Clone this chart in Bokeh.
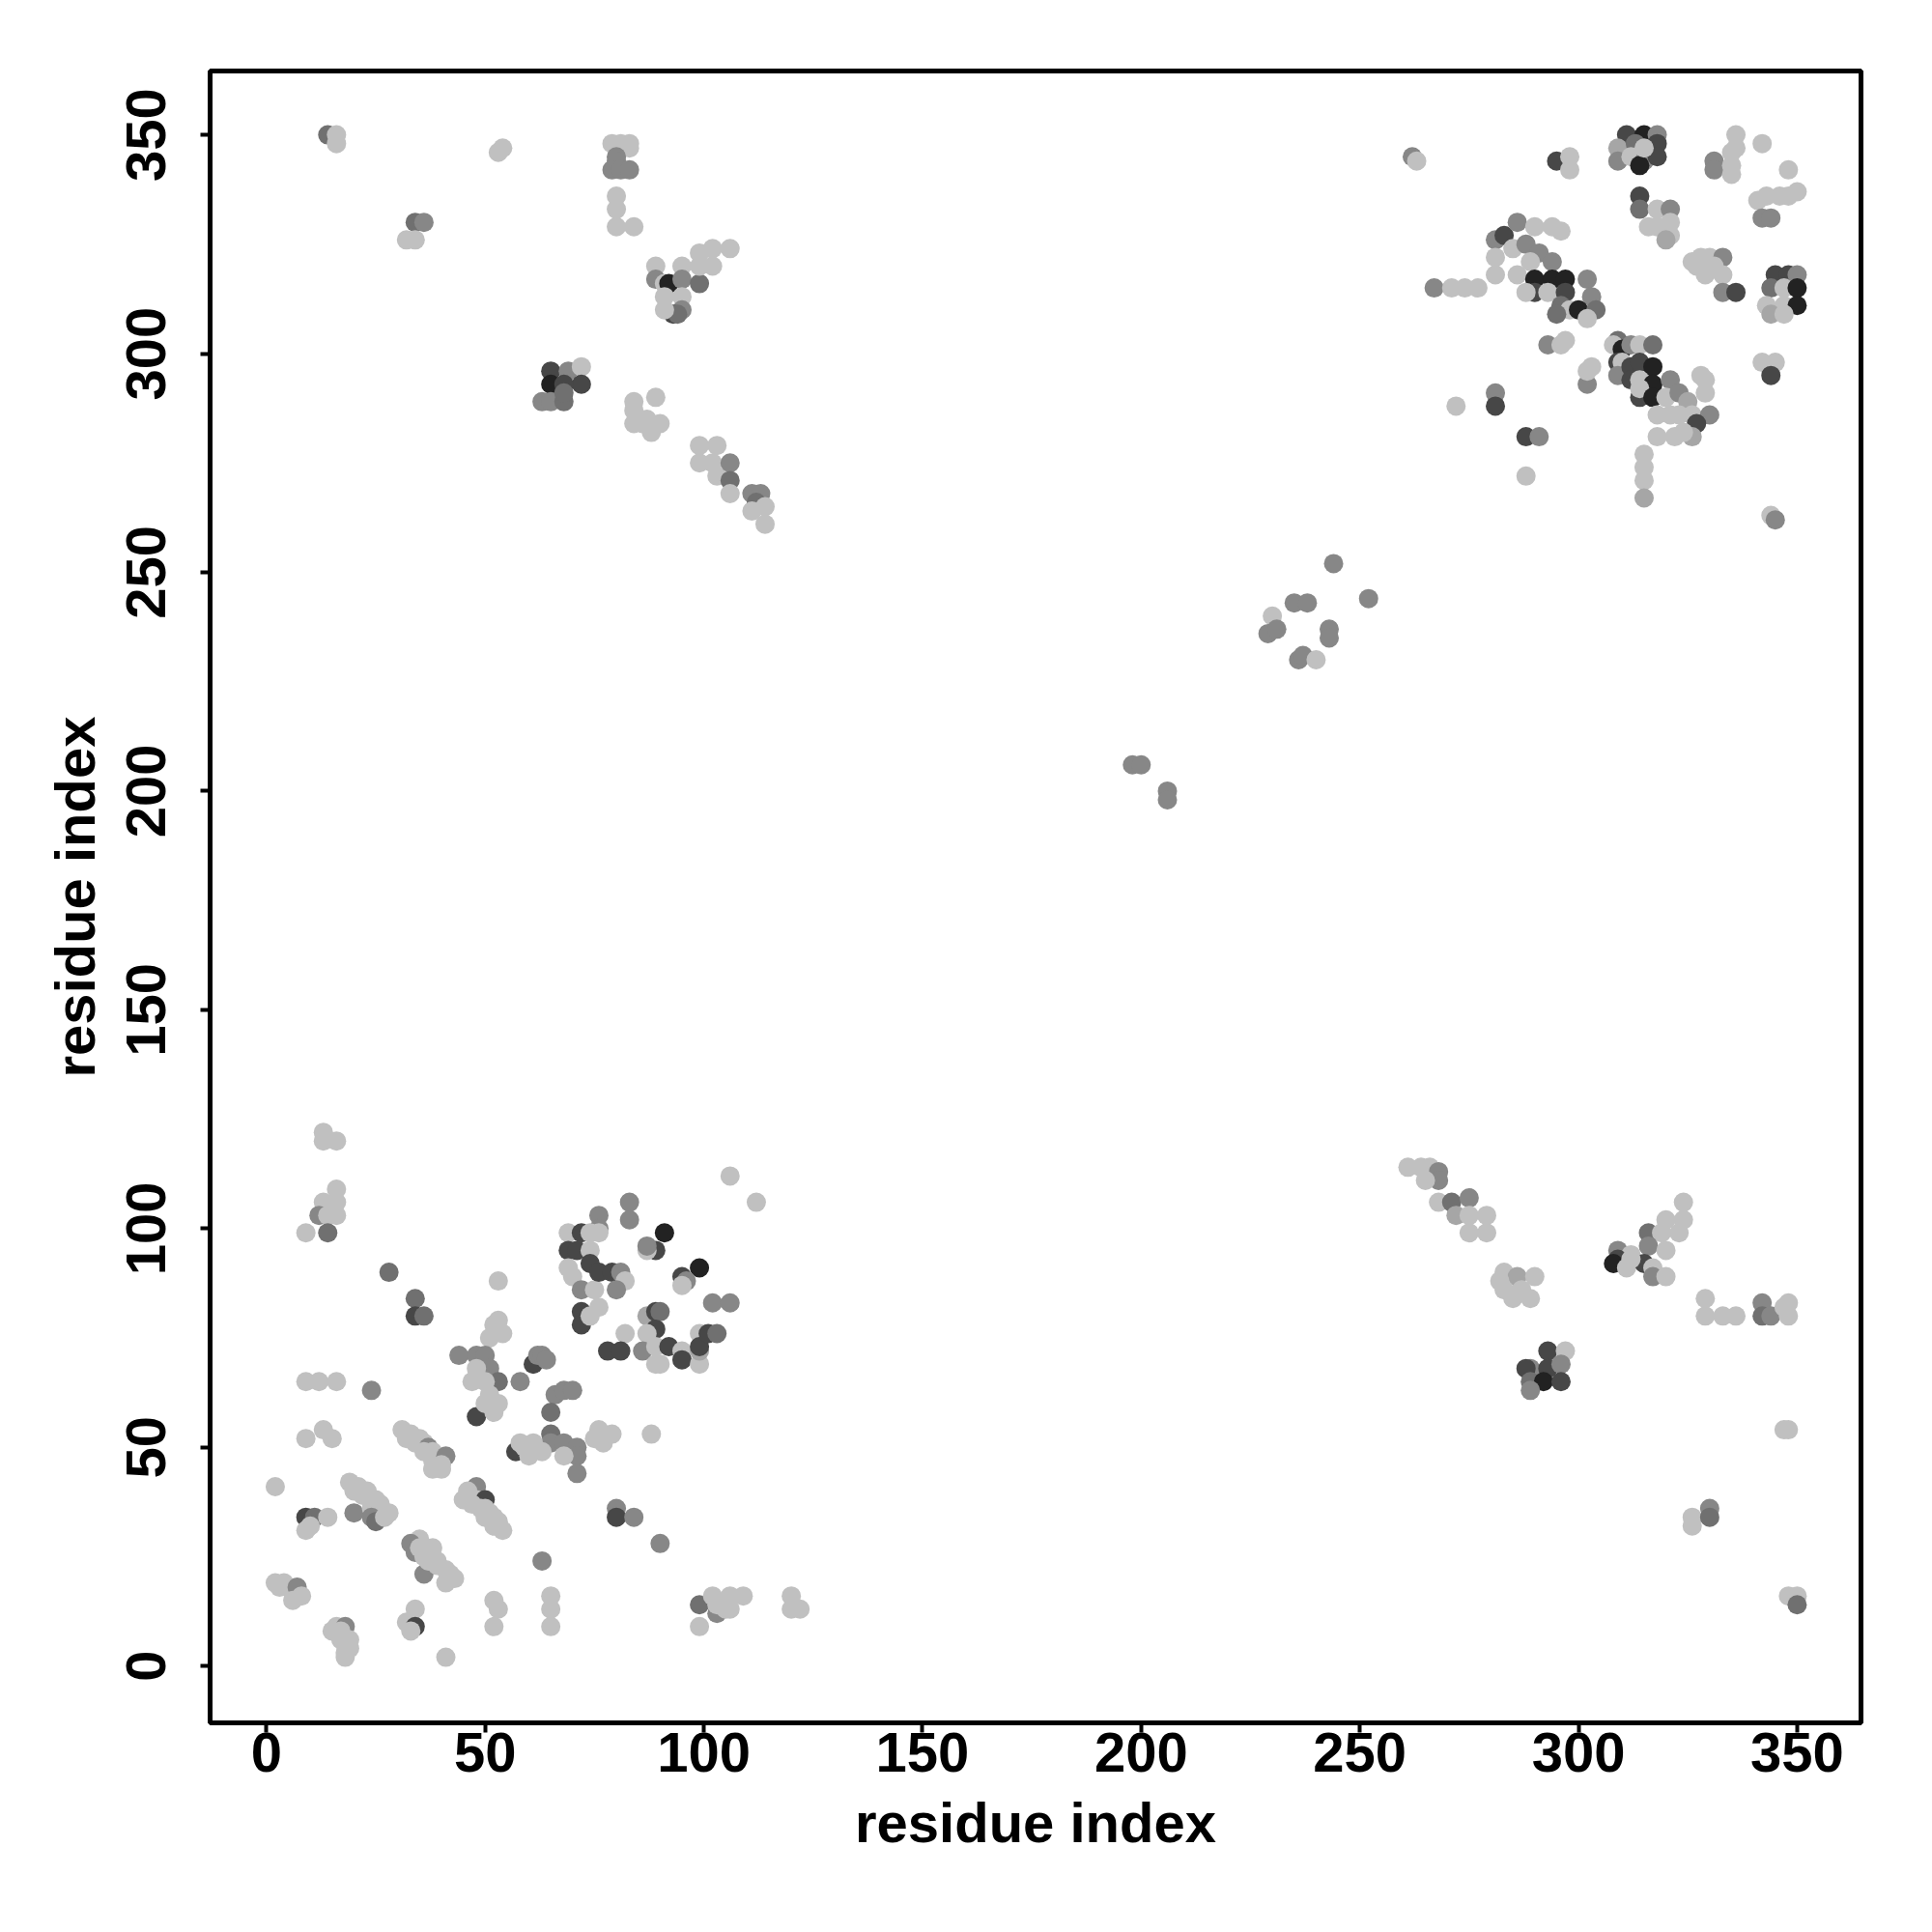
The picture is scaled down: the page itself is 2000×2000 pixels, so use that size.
from bokeh.plotting import figure
from bokeh.models import Range1d, ColumnDataSource, FixedTicker
from bokeh.embed import file_html
from bokeh.resources import INLINE

tick_values = [0, 50, 100, 150, 200, 250, 300, 350]
axis_title = "residue index"

# shade code -> grey level
shade_colors = {1: "#c0c0c0", 2: "#a6a6a6", 3: "#878787", 4: "#707070", 5: "#474747", 6: "#222222"}

# (residue i, residue j, shade code)
top_left = [
    (14, 350, 4), (16, 350, 1), (16, 348, 1), (53, 346, 1), (54, 347, 1),
    (34, 330, 4), (36, 330, 3), (32, 326, 1), (34, 326, 1),
    (79, 348, 1), (81, 348, 1), (83, 348, 1), (83, 347, 1), (80, 345, 3), (80, 344, 3),
    (79, 342, 3), (81, 342, 3), (83, 342, 3), (80, 336, 1), (80, 333, 1), (80, 329, 1), (84, 329, 1),
    (89, 320, 1), (89, 317, 3), (91, 316, 1), (92, 316, 6), (95, 320, 1), (95, 317, 3), (99, 316, 4),
    (99, 323, 1), (102, 324, 1), (102, 320, 1), (106, 324, 1), (99, 320, 1), (91, 313, 1), (95, 313, 1),
    (95, 310, 3), (93, 309, 5), (94, 309, 4), (91, 310, 1),
    (65, 296, 5), (65, 293, 6), (69, 296, 3), (72, 297, 1), (72, 293, 5), (68, 293, 5),
    (63, 289, 3), (65, 289, 3), (68, 289, 4), (68, 291, 4),
    (84, 289, 1), (89, 290, 1), (84, 287, 1), (84, 284, 1), (88, 282, 1), (90, 284, 1), (87, 285, 1), (86, 284, 1),
    (99, 279, 1), (103, 279, 1), (99, 275, 1), (102, 275, 1), (103, 272, 1), (106, 275, 3), (106, 271, 4),
    (106, 268, 1), (111, 268, 3), (113, 268, 3), (112, 266, 4), (111, 264, 1), (114, 265, 1), (114, 261, 1),
]

top_right = [
    (262, 345, 3), (263, 344, 1), (295, 344, 5), (298, 345, 1), (298, 342, 1),
    (311, 350, 5), (315, 350, 6), (318, 350, 3), (309, 347, 2), (313, 348, 4), (318, 348, 5), (309, 344, 3),
    (312, 345, 1), (315, 344, 3), (318, 345, 5), (314, 343, 6), (315, 347, 1),
    (331, 344, 3), (331, 342, 3), (335, 346, 1), (336, 350, 1), (336, 347, 1), (335, 343, 1), (335, 341, 1),
    (342, 348, 1), (348, 342, 1),
    (341, 335, 1), (343, 336, 1), (346, 336, 1), (348, 336, 1), (350, 337, 1), (342, 331, 3), (344, 331, 3),
    (314, 336, 5), (314, 333, 4), (318, 333, 1), (321, 333, 3), (318, 329, 1), (321, 330, 1), (321, 327, 1),
    (320, 326, 2), (316, 329, 1),
    (326, 321, 1), (328, 322, 1), (330, 322, 1), (333, 322, 3), (329, 318, 1), (333, 318, 1), (333, 314, 3),
    (336, 314, 5), (327, 320, 1), (331, 320, 1),
    (345, 318, 5), (348, 318, 5), (350, 318, 3), (344, 315, 4), (347, 315, 1), (350, 315, 6), (343, 311, 1),
    (347, 311, 1), (350, 311, 6), (344, 309, 2), (347, 309, 1),
    (267, 315, 3), (271, 315, 1), (274, 315, 1), (277, 315, 1),
    (281, 326, 3), (283, 327, 5), (286, 330, 3), (290, 329, 1), (294, 329, 1), (296, 328, 1), (281, 322, 1),
    (281, 318, 1), (286, 318, 1), (285, 324, 1), (288, 325, 3), (291, 323, 3), (289, 321, 1), (294, 321, 3),
    (290, 317, 6), (294, 317, 6), (297, 317, 6), (302, 317, 3), (290, 314, 5), (293, 314, 1), (297, 314, 5),
    (303, 313, 3), (296, 311, 4), (298, 310, 1), (295, 309, 4), (300, 310, 6), (304, 310, 4), (302, 308, 1),
    (288, 314, 1),
    (293, 302, 3), (296, 302, 1), (297, 303, 1), (302, 293, 3), (302, 296, 1), (303, 297, 1),
    (309, 303, 4), (308, 302, 1), (310, 301, 6), (312, 302, 3), (314, 302, 1), (317, 302, 4), (309, 298, 5),
    (310, 298, 1), (309, 295, 3), (312, 297, 5), (314, 298, 5), (317, 297, 6), (312, 294, 5), (314, 294, 1),
    (317, 293, 6), (314, 290, 5), (314, 292, 1), (317, 290, 6), (321, 294, 3), (320, 290, 1), (323, 291, 3),
    (325, 289, 2), (328, 295, 1), (329, 294, 1), (329, 291, 1),
    (318, 286, 1), (321, 286, 1), (323, 286, 1), (326, 286, 1), (330, 286, 3), (327, 284, 5), (318, 281, 1),
    (322, 281, 1), (326, 281, 2), (324, 282, 1),
    (315, 277, 1), (315, 274, 1), (315, 271, 1), (315, 267, 2),
    (342, 298, 1), (345, 298, 1), (344, 295, 5), (344, 263, 1), (345, 262, 3),
    (272, 288, 1), (281, 291, 3), (281, 288, 5), (288, 281, 5), (291, 281, 3), (288, 272, 1),
]

middle = [
    (244, 252, 3), (252, 244, 3), (235, 243, 3), (238, 243, 3), (230, 240, 1), (229, 236, 3), (231, 237, 3),
    (243, 237, 3), (243, 235, 3), (236, 230, 3), (237, 231, 3), (240, 230, 1),
    (198, 206, 3), (200, 206, 3), (206, 200, 3), (206, 198, 3),
]

bottom_right = [
    (261, 114, 1), (264, 114, 1), (266, 114, 1), (268, 113, 3), (268, 111, 3), (265, 111, 1), (268, 106, 1),
    (271, 106, 4), (275, 107, 3), (272, 103, 2), (275, 103, 1), (279, 103, 1), (275, 99, 1), (279, 99, 1),
    (283, 90, 1), (286, 89, 2), (290, 89, 1), (282, 88, 1), (283, 86, 1), (285, 84, 1), (289, 84, 1), (287, 86, 1),
    (324, 106, 1), (320, 102, 1), (324, 102, 1), (316, 99, 4), (319, 99, 1), (323, 99, 1), (316, 96, 3),
    (320, 95, 1), (309, 95, 3), (312, 94, 1), (309, 93, 5), (308, 92, 6), (311, 91, 1), (315, 92, 5),
    (317, 91, 1), (317, 89, 3), (320, 89, 1), (312, 93, 1),
    (329, 84, 1), (329, 80, 1), (333, 80, 1), (336, 80, 1), (342, 83, 3), (342, 80, 4), (344, 80, 3),
    (348, 83, 1), (348, 80, 1), (347, 82, 1),
    (293, 72, 5), (297, 72, 1), (289, 68, 3), (288, 68, 5), (293, 68, 5), (296, 69, 3), (289, 65, 4),
    (292, 65, 6), (296, 65, 5), (289, 63, 3),
    (347, 54, 1), (348, 54, 1), (326, 34, 1), (326, 32, 1), (330, 36, 3), (330, 34, 4),
    (348, 16, 1), (350, 16, 1), (350, 14, 4),
]

bottom_left = [
    (13, 122, 1), (13, 120, 1), (16, 120, 1), (16, 109, 1), (13, 106, 1), (16, 106, 1), (12, 103, 3),
    (14, 103, 1), (16, 103, 1), (9, 99, 1), (14, 99, 4),
    (28, 90, 4), (34, 84, 4), (34, 80, 5), (36, 80, 4),
    (53, 88, 1), (52, 78, 1), (53, 79, 1), (54, 76, 1), (51, 75, 1),
    (44, 71, 3), (48, 71, 3), (50, 71, 3), (51, 68, 3), (48, 68, 1), (53, 65, 4), (58, 65, 3), (24, 63, 3),
    (9, 65, 1), (12, 65, 1), (16, 65, 1),
    (61, 69, 5), (62, 71, 3), (63, 71, 3), (64, 70, 3), (66, 62, 3), (68, 63, 3), (70, 63, 3),
    (106, 112, 1), (112, 106, 1), (83, 106, 3), (83, 102, 3), (91, 99, 6), (89, 95, 5), (87, 95, 1),
    (87, 96, 3), (99, 91, 6), (95, 89, 5), (96, 88, 3), (95, 87, 1), (102, 83, 3), (106, 83, 3),
    (76, 103, 3), (76, 100, 3), (69, 99, 1), (72, 99, 5), (74, 99, 1), (76, 99, 1), (69, 95, 5),
    (71, 95, 5), (74, 95, 1), (69, 91, 1), (74, 92, 5), (70, 89, 1), (72, 86, 3), (75, 86, 1),
    (76, 90, 5), (79, 90, 5), (81, 90, 3), (82, 88, 1), (80, 86, 3), (72, 81, 5), (72, 78, 5),
    (76, 82, 1), (74, 80, 1),
    (87, 80, 2), (89, 81, 5), (90, 81, 4), (89, 77, 5), (87, 76, 1), (82, 76, 1), (78, 72, 5), (81, 72, 5),
    (86, 72, 3), (89, 73, 1), (89, 69, 1), (90, 69, 1), (92, 73, 5), (95, 72, 1), (95, 70, 5), (99, 69, 1),
    (99, 72, 2), (99, 76, 1), (99, 73, 5), (101, 76, 5), (103, 76, 4),
    (9, 52, 1), (13, 54, 1), (15, 52, 1), (2, 41, 1),
    (31, 54, 1), (32, 52, 1), (33, 53, 1), (34, 51, 1), (35, 52, 1), (36, 51, 1), (37, 50, 3), (36, 49, 1),
    (38, 49, 1), (38, 47, 1), (39, 47, 1), (41, 48, 3), (38, 45, 1), (40, 46, 1), (40, 45, 1),
    (48, 41, 3), (46, 40, 1), (45, 38, 1), (48, 38, 1), (50, 38, 5), (47, 37, 1), (49, 36, 1), (50, 36, 1),
    (51, 35, 1), (52, 34, 1), (53, 33, 1), (52, 32, 1), (54, 31, 1), (50, 34, 1),
    (9, 34, 5), (11, 34, 4), (14, 34, 1), (10, 32, 1), (9, 31, 1),
    (19, 42, 1), (20, 40, 1), (21, 41, 1), (22, 39, 1), (23, 40, 1), (24, 38, 1), (25, 38, 1), (20, 35, 3),
    (24, 36, 1), (26, 36, 1), (26, 37, 1), (28, 35, 1), (24, 34, 3), (25, 33, 4), (27, 34, 1),
    (35, 29, 1), (33, 28, 3), (34, 26, 3), (35, 27, 1), (36, 25, 1), (37, 26, 1), (38, 27, 1), (36, 21, 3),
    (39, 24, 1), (39, 23, 1), (41, 22, 1), (42, 21, 1), (43, 20, 1), (41, 19, 1), (37, 24, 1),
    (2, 19, 1), (3, 18, 1), (4, 19, 1), (5, 18, 1), (6, 17, 1), (7, 18, 3), (8, 16, 1), (6, 15, 1),
    (16, 9, 1), (18, 9, 3), (15, 8, 1), (17, 8, 1), (19, 6, 1), (18, 5, 1), (19, 4, 1), (18, 3, 1),
    (18, 2, 1), (17, 6, 1),
    (32, 10, 1), (34, 13, 1), (34, 9, 5), (33, 8, 1), (41, 2, 1),
    (52, 15, 1), (53, 13, 1), (52, 9, 1),
    (48, 57, 5), (50, 60, 1), (52, 58, 1), (51, 62, 1), (53, 60, 1), (47, 65, 1), (50, 65, 1),
    (57, 49, 5), (58, 51, 1),
    (65, 58, 4), (65, 53, 4), (65, 51, 3), (68, 51, 3), (71, 50, 3), (71, 48, 3), (71, 44, 3), (68, 48, 1),
    (63, 49, 1), (61, 51, 1), (59, 50, 1), (60, 48, 1), (76, 54, 1), (79, 53, 1), (75, 52, 1), (77, 51, 1),
    (88, 53, 1),
    (80, 36, 3), (80, 34, 5), (84, 34, 3), (90, 28, 3), (63, 24, 3),
    (65, 16, 1), (65, 13, 1), (65, 9, 1),
    (99, 14, 4), (99, 9, 1), (102, 16, 1), (103, 12, 3), (103, 14, 1), (106, 16, 1), (106, 13, 1),
    (109, 16, 1), (120, 16, 1), (120, 13, 1), (122, 13, 1), (105, 13, 1),
]

regions = [bottom_left, bottom_right, middle, top_left, top_right]
xs, ys, cs = [], [], []
for reg in regions:
    for i, j, s in reg:
        xs.append(i)
        ys.append(j)
        cs.append(shade_colors[s])

src = ColumnDataSource(dict(x=xs, y=ys, c=cs))

p = figure(width=1984, height=1984, output_backend="svg", toolbar_location=None,
           x_range=Range1d(-12.9, 364.6), y_range=Range1d(-13.0, 364.6),
           min_border_left=217, min_border_right=58, min_border_top=73, min_border_bottom=201)
p.scatter("x", "y", source=src, size=20, fill_color="c", line_color=None)

p.grid.visible = False
p.outline_line_color = "black"
p.outline_line_width = 5
p.outline_line_alpha = 1.0
p.background_fill_color = "white"
p.border_fill_color = "white"

for ax in (p.xaxis[0], p.yaxis[0]):
    ax.ticker = FixedTicker(ticks=tick_values)
    ax.axis_line_color = None
    ax.major_tick_in = 0
    ax.major_tick_out = 10
    ax.major_tick_line_width = 4
    ax.major_tick_line_color = "black"
    ax.minor_tick_line_color = None
    ax.major_label_text_font = "Liberation Sans"
    ax.major_label_text_font_size = "58px"
    ax.major_label_text_font_style = "bold"
    ax.major_label_text_color = "black"
    ax.axis_label = axis_title
    ax.axis_label_text_font = "Liberation Sans"
    ax.axis_label_text_font_size = "58px"
    ax.axis_label_text_font_style = "bold"
    ax.axis_label_text_color = "black"

p.xaxis.major_label_standoff = 0
p.xaxis.axis_label_standoff = 17
p.yaxis.major_label_orientation = "vertical"
p.yaxis.major_label_standoff = 36
p.yaxis.axis_label_standoff = 19

open("out.html", "w").write(file_html(p, INLINE))
